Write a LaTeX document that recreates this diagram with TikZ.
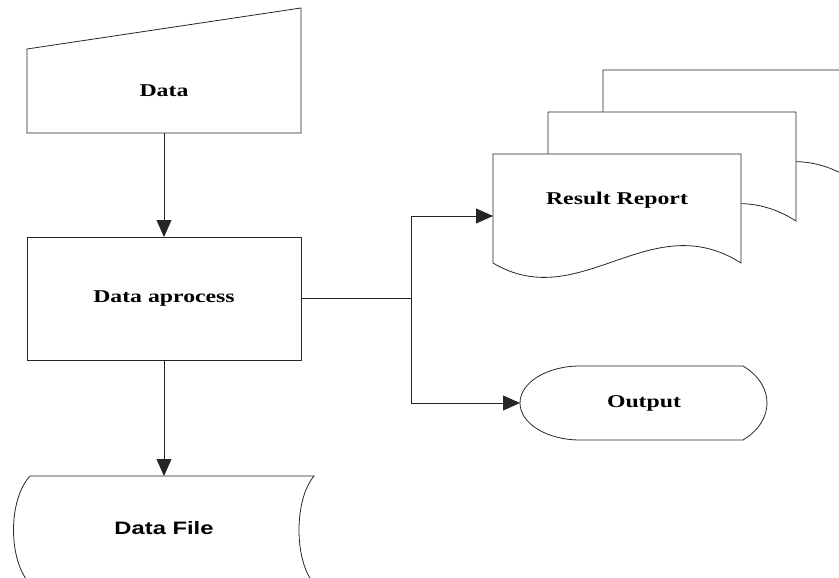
\documentclass[tikz,border=0pt]{standalone}
\usepackage{fontspec}
\newfontfamily\flowserif[FakeStretch=1.32]{Liberation Serif}
\newfontfamily\flowsans[FakeStretch=1.32]{Liberation Sans}
\usetikzlibrary{arrows.meta}
\usetikzlibrary{calc,positioning}

\begin{document}
\begin{tikzpicture}[x=1pt,y=1pt]
    \def\boxWidth{274}
    \def\docWidth{248}
    \def\docShiftX{55}
    \def\docShiftY{42}

    \tikzstyle{line}=[line width=0.8pt,draw=black!85]
    \tikzstyle{flow}=[line, -{Triangle[length=17pt,width=15pt]}]
    \tikzstyle{shapebox}=[inner sep=0pt,outer sep=0pt,draw=none]
    \tikzstyle{txt}=[font=\flowserif\bfseries\fontsize{18}{20}\selectfont]
    \tikzstyle{txtsans}=[font=\flowsans\bfseries\fontsize{18}{20}\selectfont]
    \tikzset{docpage/.pic={
        \filldraw[line,fill=white] (0,0) -- (0,109) -- (\docWidth,109) -- (\docWidth,0)
        .. controls (157,58) and (87,-52) .. (0,0);
    }}

    \clip (0,0) rectangle (839,-578);

    % Manual input
    \node[shapebox,txt,minimum width=\boxWidth,minimum height=84] (data) at (164,-91) {Data};
    \draw[line] (data.north west) -- (data.south west) -- (data.south east)
    -- ($(data.north east)+(0,41)$) -- cycle;

    % Process
    \node[shapebox,txt,line,minimum width=\boxWidth,minimum height=123] (process) at (164,-298.5) {Data aprocess};

    % Stored data
    \node[shapebox,minimum width=284,minimum height=108] (file) at (172,-530) {};
    \draw[line] (file.north west) -- (file.north east)
    .. controls ($(file.north east)+(-20,-24)$) and ($(file.south east)+(-20,24)$) .. (file.south east)
    -- (file.south west)
    .. controls ($(file.south west)+(-22,24)$) and ($(file.north west)+(-22,-24)$) .. (file.north west);
    \node[txtsans] (fileText) at (164,-528) {Data File};

    % Multi document
    \node[shapebox,minimum width=\docWidth,minimum height=124] (report) at (617,-216) {};
    \foreach \i in {2,1,0}
      \pic at ($(report.south west)+(\i*\docShiftX,15+\i*\docShiftY)$) {docpage};
    \node[txt] (reportText) at ($(report.center)+(0,16)$) {Result Report};

    % Display
    \node[shapebox,txt,minimum width=\docWidth,minimum height=74] (output) at (644,-403) {Output};
    \draw[line] ($(output.north west)+(60,0)$) arc[start angle=90,end angle=270,x radius=60,y radius=37]
    -- ($(output.south east)+(-25,0)$)
    .. controls ($(output.south east)+(7,19)$) and ($(output.north east)+(7,-19)$) .. ($(output.north east)+(-25,0)$)
    -- cycle;

    % Connectors
    \coordinate (split) at ($(process.east)+(110,0)$);
    \draw[flow] (data.south) -- (process.north);
    \draw[flow] (process.south) -- (process.south |- file.north);
    \draw[line] (process.east) -- (split);
    \draw[flow] (split) |- (report.west);
    \draw[flow] (split) |- (output.west);
\end{tikzpicture}
\end{document}
